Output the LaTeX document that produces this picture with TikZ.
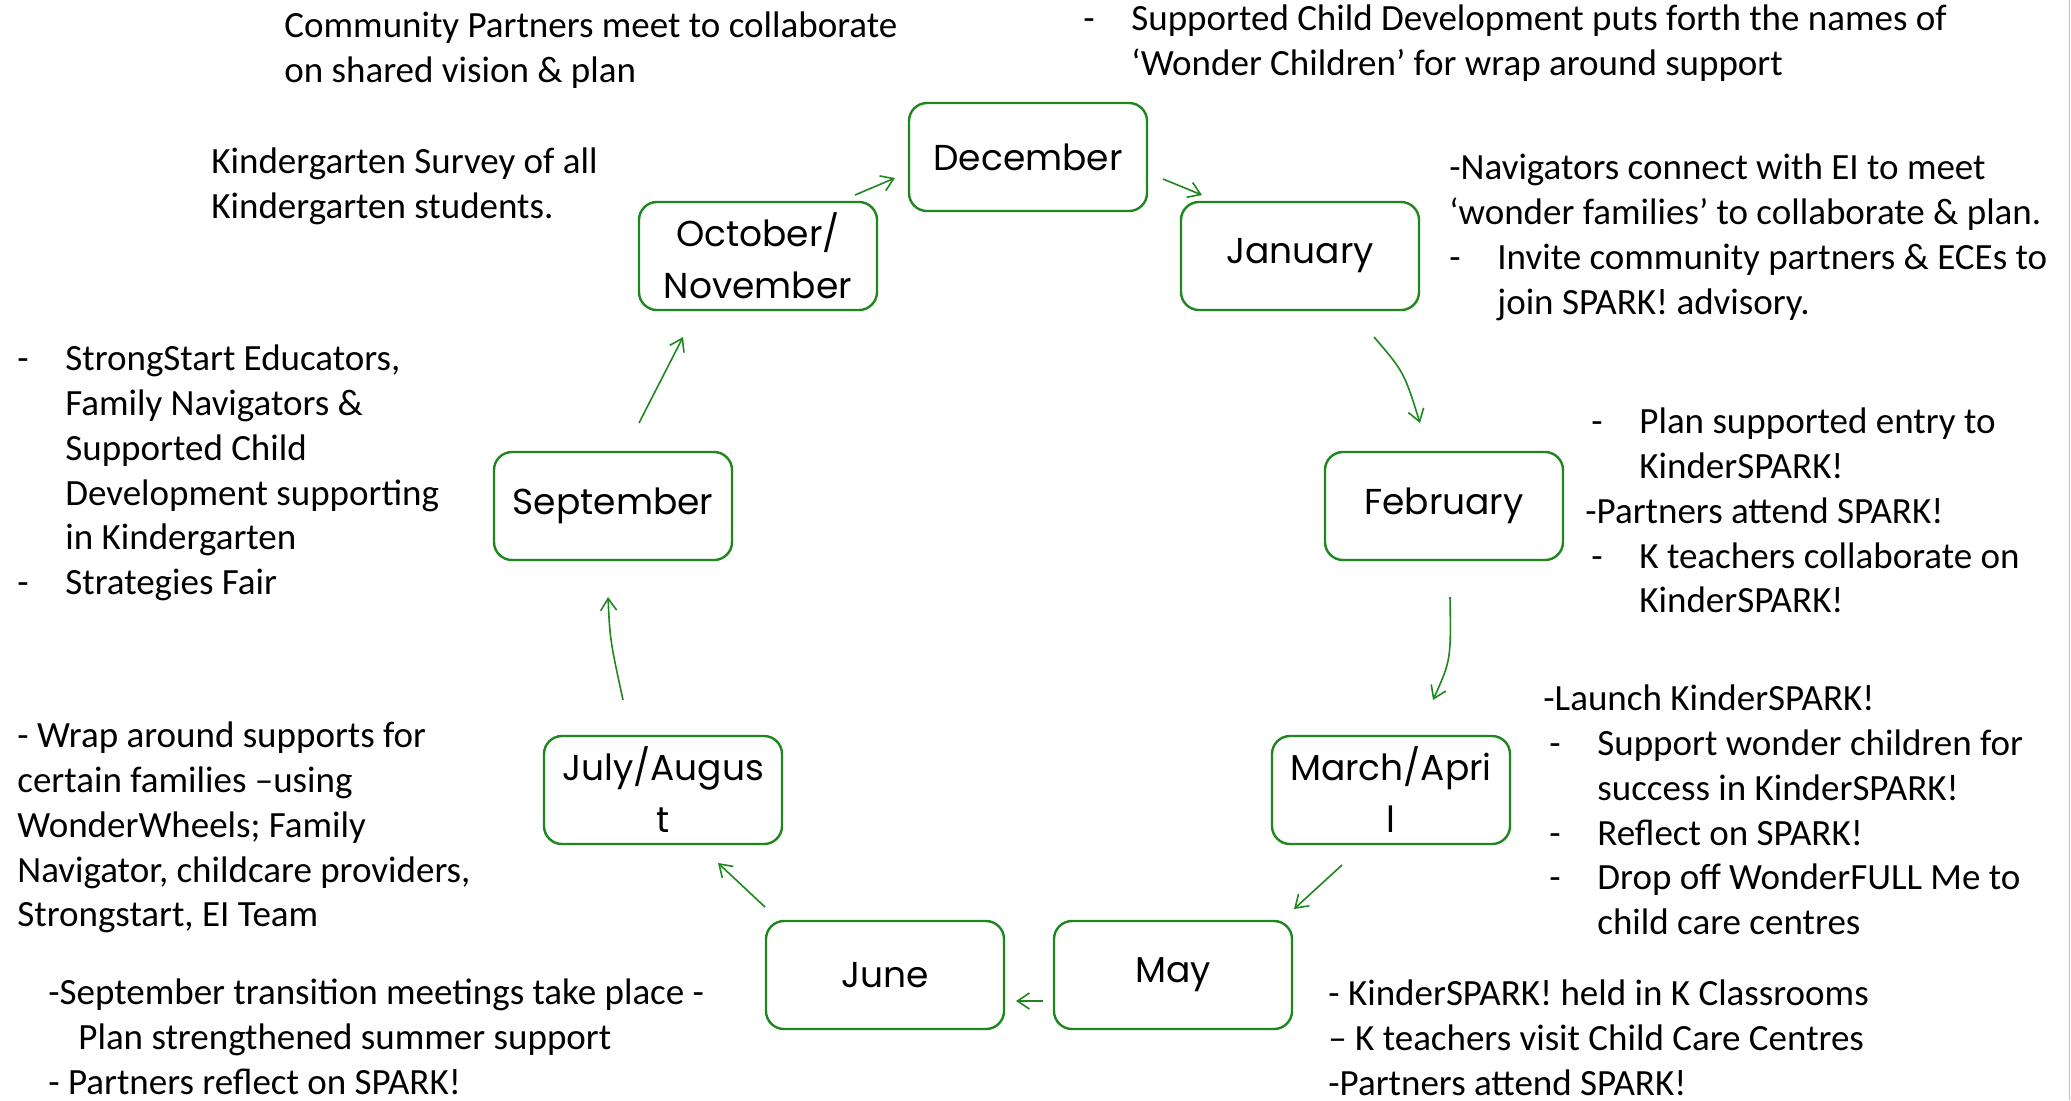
\documentclass[tikz,border=0pt]{standalone}
\usepackage{fontspec}
\setmainfont{Carlito}
\newfontfamily\monthfont{Poppins}
\usetikzlibrary{calc,arrows.meta}
\definecolor{leafgreen}{RGB}{30,135,30}
\newcommand{\dsh}{\makebox[24pt][l]{-}}
\newcommand{\ind}{\hspace*{24pt}}

\begin{document}
\begin{tikzpicture}[x=0.5pt,y=-0.5pt,
    month/.style={draw=leafgreen,line width=1.2pt,rounded corners=9pt,
      minimum width=119pt,minimum height=54pt,inner sep=2pt,align=center,
      font=\monthfont\fontsize{18}{26}\selectfont},
    note/.style={anchor=north west,inner sep=0pt,align=left,
      font=\fontsize{18.5}{22.4}\selectfont},
    flow/.style={draw=leafgreen,line width=0.8pt,-{Straight Barb[length=6pt,width=8pt]}}]
     \useasboundingbox (0,0) rectangle (2071,1100);
     \draw[black!25] (2069,0) -- (2069,1100);
     % the months
     \node[month] (dec) at (1028,157) {December};
     \node[month] (oct) at (758,256) {October/\\November};
     \node[month] (jan) at (1300,256) {January};
     \node[month] (feb) at (1444,506) {February};
     \node[month] (sep) at (613,506) {September};
     \node[month] (mar) at (1391,790) {March/Apri\\l};
     \node[month] (jul) at (663,790) {July/Augus\\t};
     \node[month] (jun) at (885,975) {June};
     \node[month] (may) at (1173,975) {May};
     % the cycle
     \draw[flow] ($(oct)+(97,-61)$) -- ($(dec)+(-133,21)$);
     \draw[flow] ($(dec)+(135,22)$) -- ($(jan)+(-98,-61)$);
     \draw[flow] ($(jan)+(74,81)$) .. controls ($(jan)+(104,116)$) .. ($(feb)+(-24,-83)$);
     \draw[flow] ($(feb)+(6,91)$) .. controls ($(feb)+(7,154)$) .. ($(mar)+(42,-90)$);
     \draw[flow] ($(mar)+(-49,75)$) -- ($(may)+(121,-66)$);
     \draw[flow] ($(may)+(-130,26)$) -- ($(jun)+(131,26)$);
     \draw[flow] ($(jun)+(-120,-68)$) -- ($(jul)+(55,73)$);
     \draw[flow] ($(jul)+(-40,-90)$) .. controls ($(jul)+(-53,-150)$) .. ($(sep)+(-5,91)$);
     \draw[flow] ($(sep)+(26,-83)$) -- ($(oct)+(-75,81)$);
     % what happens when
     \node[note] (comm) at (284,6) {\strut Community Partners meet to collaborate\\on shared vision \& plan};
     \node[note] (survey) at (211,142) {\strut Kindergarten Survey of all\\Kindergarten students.};
     \node[note] (decnote) at (1083,-1) {\strut\dsh Supported Child Development puts forth the names of\\\ind ‘Wonder Children’ for wrap around support};
     \node[note] (jannote) at (1449,148) {\strut -Navigators connect with EI to meet\\‘wonder families’ to collaborate \& plan.\\\dsh Invite community partners \& ECEs to\\\ind join SPARK! advisory.};
     \node[note] (febnote) at (1585,402) {\strut\hspace*{3pt}\dsh Plan supported entry to\\\hspace*{3pt}\ind KinderSPARK!\\-Partners attend SPARK!\\\hspace*{3pt}\dsh K teachers collaborate on\\\hspace*{3pt}\ind KinderSPARK!};
     \node[note] (marnote) at (1543,679) {\strut -Launch KinderSPARK!\\\hspace*{3pt}\dsh Support wonder children for\\\hspace*{3pt}\ind success in KinderSPARK!\\\hspace*{3pt}\dsh Reflect on SPARK!\\\hspace*{3pt}\dsh Drop off WonderFULL Me to\\\hspace*{3pt}\ind child care centres};
     \node[note] (maynote) at (1328,974) {\strut - KinderSPARK! held in K Classrooms\\– K teachers visit Child Care Centres\\-Partners attend SPARK!};
     \node[note] (junnote) at (48,973) {\strut -September transition meetings take place -\\\hspace*{15pt}Plan strengthened summer support\\- Partners reflect on SPARK!};
     \node[note] (julnote) at (17,716) {\strut - Wrap around supports for\\certain families –using\\WonderWheels; Family\\Navigator, childcare providers,\\Strongstart, EI Team};
     \node[note] (sepnote) at (17,339) {\strut\dsh StrongStart Educators,\\\ind Family Navigators \&\\\ind Supported Child\\\ind Development supporting\\\ind in Kindergarten\\\dsh Strategies Fair};
\end{tikzpicture}
\end{document}
